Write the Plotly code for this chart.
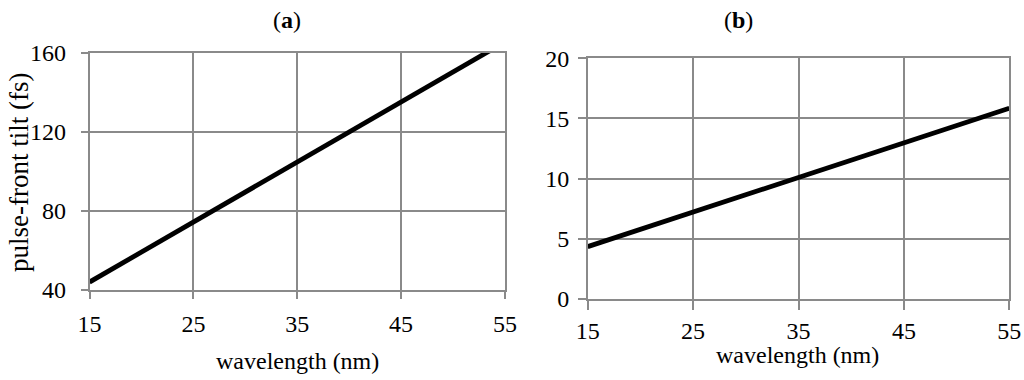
import plotly.graph_objects as go

wavelength = [15, 25, 35, 45, 55]
tilt_a = [44.0, 74.3, 104.5, 135.0, 165.6]
tilt_b = [4.35, 7.25, 10.1, 13.0, 15.85]

x_ticks = [15, 25, 35, 45, 55]
y_ticks_a = [40, 80, 120, 160]
y_ticks_b = [0, 5, 10, 15, 20]

FONT = "Liberation Serif, Times New Roman, serif"
GRID = "#8a8a8a"
FS = 24
W, H = 1024, 380

fig = go.Figure()
fig.add_trace(go.Scatter(x=wavelength, y=tilt_a, mode="lines",
                         line=dict(color="black", width=4.8),
                         xaxis="x", yaxis="y", showlegend=False))
fig.add_trace(go.Scatter(x=wavelength, y=tilt_b, mode="lines",
                         line=dict(color="black", width=4.8),
                         xaxis="x2", yaxis="y2", showlegend=False))

common = dict(showgrid=True, gridcolor=GRID, gridwidth=1.5, automargin=False,
              showline=True, linecolor=GRID, linewidth=1.5, mirror=True,
              ticks="outside", tickcolor=GRID, tickwidth=1.5,
              zeroline=False, tickfont=dict(family=FONT, size=FS, color="black"))

fig.update_layout(
    width=W, height=H,
    margin=dict(l=0, r=0, t=0, b=0),
    paper_bgcolor="white", plot_bgcolor="white",
    font=dict(family=FONT, color="black"),
    xaxis=dict(domain=[89.5 / W, 505 / W], range=[15, 55], tickvals=x_ticks,
               ticklen=7, ticklabelstandoff=4, anchor="y", **common),
    yaxis=dict(domain=[1 - 290 / H, 1 - 53 / H], range=[40, 160], tickvals=y_ticks_a,
               ticklen=7, ticklabelstandoff=10, anchor="x", **common),
    xaxis2=dict(domain=[587.7 / W, 1009.3 / W], range=[15, 55], tickvals=x_ticks,
                ticklen=9, anchor="y2", **common),
    yaxis2=dict(domain=[1 - 299 / H, 1 - 58.3 / H], range=[0, 20], tickvals=y_ticks_b,
                ticklen=8, ticklabelstandoff=4, anchor="x2", **common),
)

labels = [
    ("(<b>a</b>)", 287, 20, 0, FS),
    ("(<b>b</b>)", 738, 20, 0, FS),
    ("wavelength (nm)", 297, 361, 0, FS),
    ("wavelength (nm)", 797, 355, 0, FS),
    ("pulse-front tilt (fs)", 19, 173, -90, 27),
]
for text, px, py, ang, fs in labels:
    fig.add_annotation(text=text, x=px / W, y=1 - py / H, xref="paper", yref="paper",
                       showarrow=False, textangle=ang, xanchor="center", yanchor="middle",
                       font=dict(family=FONT, size=fs, color="black"))

fig.write_html("out.html", config={"displayModeBar": False},
               post_script="document.body.style.margin='0';")
